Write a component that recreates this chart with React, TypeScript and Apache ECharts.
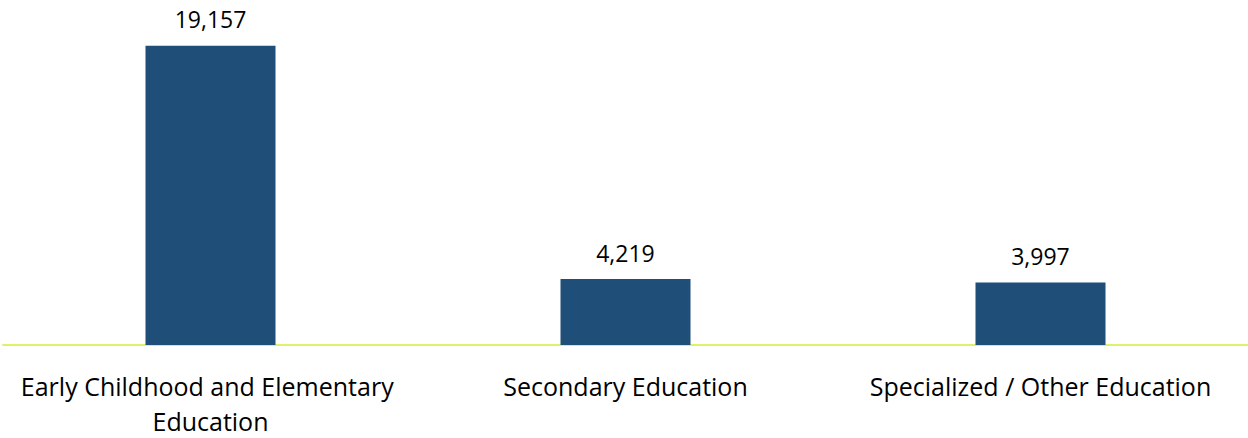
import React, { useEffect, useRef } from "react";
import * as echarts from "echarts";

const categories = [
  "Early Childhood and Elementary Education",
  "Secondary Education",
  "Specialized / Other Education",
];
const values = [19157, 4219, 3997];

export default function App() {
  const ref = useRef<HTMLDivElement>(null);
  useEffect(() => {
    document.body.style.margin = "0";
    const chart = echarts.init(ref.current!, null, { renderer: "svg" });
    chart.setOption({
      animation: false,
      grid: { left: 3, right: 0, top: 32.5, height: 319, containLabel: false },
      xAxis: {
        type: "category",
        data: categories,
        axisLine: { show: true, lineStyle: { color: "#DDF26A", width: 2 } },
        axisTick: { show: false },
        axisLabel: {
          interval: 0,
          margin: 23,
          color: "#000",
          fontFamily: "Open Sans",
          fontSize: 25,
          lineHeight: 35,
          width: 400,
          overflow: "break",
        },
      },
      yAxis: {
        type: "value",
        min: 0,
        max: 20000,
        show: false,
        splitLine: { show: false },
      },
      series: [
        {
          type: "bar",
          data: values,
          barWidth: 130,
          itemStyle: { color: "#1F4E79" },
          label: {
            show: true,
            position: "top",
            distance: 15,
            color: "#000",
            fontFamily: "Open Sans",
            fontSize: 23,
            formatter: (p: any) => p.value.toLocaleString("en-US"),
          },
        },
      ],
    });
    return () => chart.dispose();
  }, []);
  return <div ref={ref} style={{ width: 1248, height: 438 }} />;
}
